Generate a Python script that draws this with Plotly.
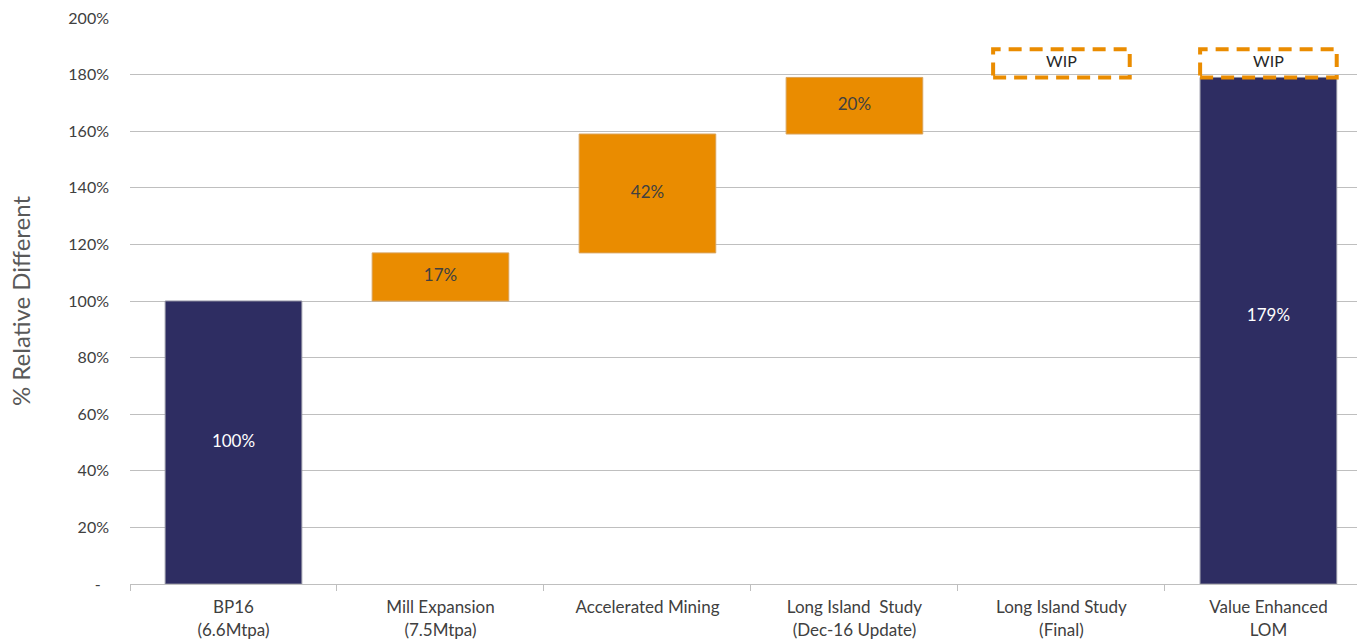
import plotly.graph_objects as go

categories = ["BP16<br>(6.6Mtpa)", "Mill Expansion<br>(7.5Mtpa)", "Accelerated Mining",
              "Long Island  Study<br>(Dec-16 Update)", "Long Island Study<br>(Final)",
              "Value Enhanced<br>LOM"]
# waterfall steps (in %)
totals_idx = [0, 5]
total_values = [100, 179]
step_idx = [1, 2, 3]
step_base = [100, 117, 159]
step_values = [17, 42, 20]
wip_idx = [4, 5]
wip_base = [179, 179]
wip_height = [10, 10]

y_tickvals = [0, 20, 40, 60, 80, 100, 120, 140, 160, 180, 200]
y_ticktext = ["-  ", "20%", "40%", "60%", "80%", "100%", "120%", "140%", "160%", "180%", "200%"]

NAVY = "#2E2D62"
ORANGE = "#EA8C00"
TXT = "#404040"
FONT = "Lato, Carlito, Calibri, sans-serif"
BARW = 0.66

fig = go.Figure()
fig.add_trace(go.Bar(
    x=[categories[i] for i in totals_idx], y=total_values,
    marker=dict(color=NAVY, line=dict(color="#8C8C9E", width=1)),
    width=BARW, hoverinfo="skip", showlegend=False))
fig.add_trace(go.Bar(
    x=[categories[i] for i in step_idx], y=step_values, base=step_base,
    marker=dict(color=ORANGE, line=dict(color="#D9A35A", width=1)),
    width=BARW, hoverinfo="skip", showlegend=False))

# value labels
label_x, label_y, label_t, label_c = [], [], [], []
for i, v in zip(totals_idx, total_values):
    extra = wip_height[wip_idx.index(i)] if i in wip_idx else 0
    label_x.append(categories[i]); label_y.append((v + extra) / 2)
    label_t.append(f"{v}%"); label_c.append("white")
for i, b, v in zip(step_idx, step_base, step_values):
    label_x.append(categories[i]); label_y.append(b + v / 2)
    label_t.append(f"{v}%"); label_c.append(TXT)
fig.add_trace(go.Scatter(
    x=label_x, y=label_y, text=label_t, mode="text",
    textfont=dict(family=FONT, size=17, color=label_c),
    hoverinfo="skip", showlegend=False))

# WIP dashed boxes
for i, b, h in zip(wip_idx, wip_base, wip_height):
    fig.add_shape(type="rect", xref="x", yref="y",
                  x0=i - BARW / 2, x1=i + BARW / 2, y0=b, y1=b + h,
                  line=dict(color=ORANGE, width=4, dash="13px,8px"),
                  fillcolor="rgba(0,0,0,0)")
fig.add_trace(go.Scatter(
    x=[categories[i] for i in wip_idx],
    y=[b + h / 2 for b, h in zip(wip_base, wip_height)],
    text=["WIP"] * len(wip_idx), mode="text",
    textfont=dict(family=FONT, size=16, color="#262626"),
    hoverinfo="skip", showlegend=False))

fig.update_layout(
    width=1357, height=641,
    margin=dict(l=130, r=0, t=18, b=57),
    plot_bgcolor="white", paper_bgcolor="white",
    bargap=0.34,
    font=dict(family=FONT, color=TXT),
    xaxis=dict(type="category", categoryorder="array", categoryarray=categories,
               range=[-0.5, 5.428], tickson="boundaries", ticks="outside",
               ticklen=6, tickcolor="#BFBFBF", showline=True, linecolor="#BFBFBF",
               linewidth=1, showgrid=False, ticklabelstandoff=8,
               tickfont=dict(size=17, color=TXT)),
    yaxis=dict(range=[0, 200], tickvals=y_tickvals, ticktext=y_ticktext,
               showgrid=True, gridcolor="#BFBFBF", gridwidth=1, zeroline=False,
               ticks="", ticklabelstandoff=20, tickfont=dict(size=16, color=TXT),
               title=dict(text="% Relative Different", standoff=30,
                          font=dict(size=24, color="#595959"))),
)

fig.write_html("out.html")
